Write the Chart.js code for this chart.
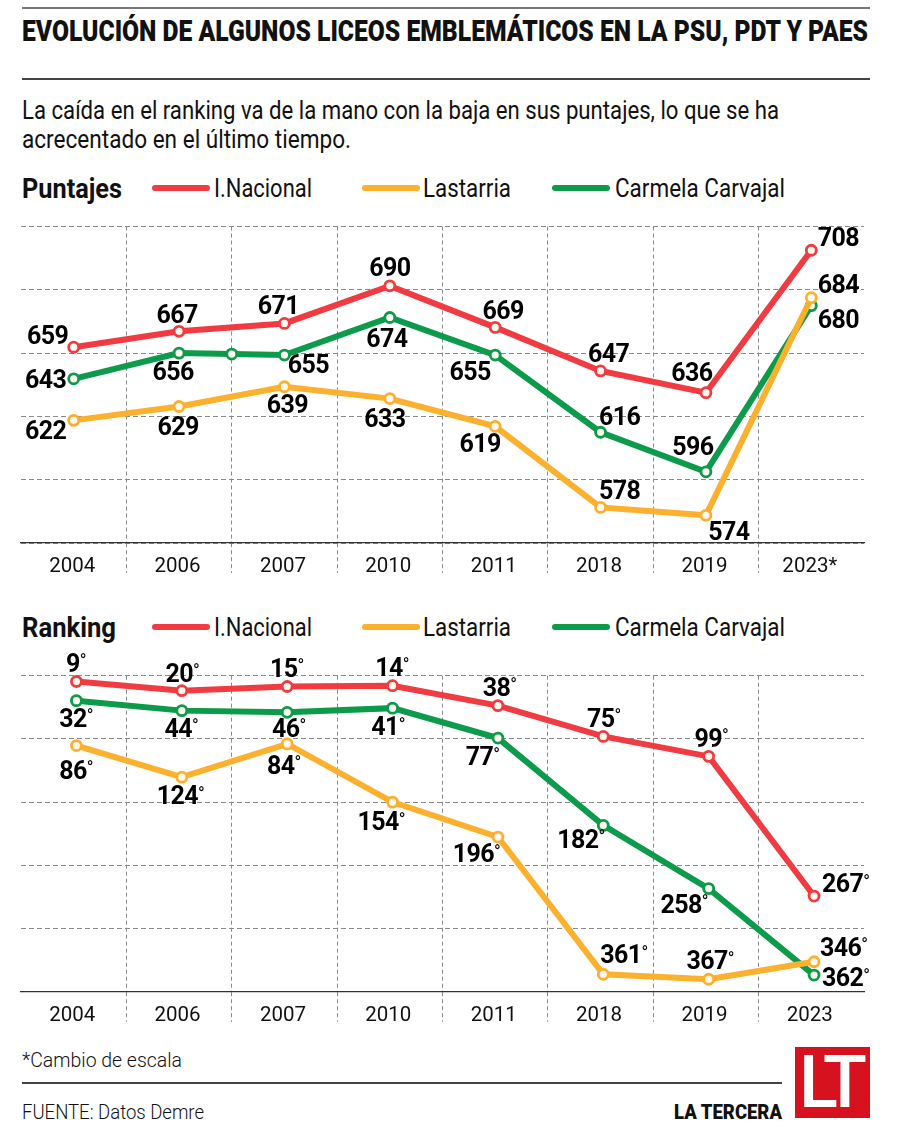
<!DOCTYPE html>
<html lang="es">
<head>
<meta charset="utf-8">
<title>Liceos emblemáticos</title>
<script src="https://cdn.jsdelivr.net/npm/chart.js@4/dist/chart.umd.js"></script>
<style>
    html, body { margin: 0; padding: 0; background: #fff; }
    #page { position: relative; width: 897px; height: 1141px; overflow: hidden; font-family: Roboto, sans-serif; color: #111; }
    .txt { position: absolute; white-space: nowrap; transform-origin: left center; line-height: 30px; height: 30px; }
    .rule { position: absolute; left: 22px; background: #444; height: 1.5px; }
    .swatch { position: absolute; height: 6px; width: 58px; border-radius: 3px; }
    .name { font-size: 25px; font-weight: 400; }
    .head { font-size: 27px; font-weight: 700; }
    canvas { position: absolute; left: 0; }
    #logo { position: absolute; left: 795px; top: 1047px; width: 75px; height: 71px; background: #d5121e; color: #fff;
            font-size: 72px; font-weight: 500; line-height: 71px; text-align: center; letter-spacing: -6px; text-indent: -5px; }
</style>
</head>
<body>
<div id="page">
    <div class="rule" style="top:7px;width:848px;background:#777;height:2px"></div>
    <div class="txt" data-w="846" style="left:22px;top:16px;font-size:29px;font-weight:900">EVOLUCIÓN DE ALGUNOS LICEOS EMBLEMÁTICOS EN LA PSU, PDT Y PAES</div>
    <div class="rule" style="top:78px;width:848px"></div>
    <div class="txt" data-w="757" style="left:22px;top:96px;font-size:25px">La caída en el ranking va de la mano con la baja en sus puntajes, lo que se ha</div>
    <div class="txt" data-w="329" style="left:22px;top:125px;font-size:25px">acrecentado en el último tiempo.</div>

    <div class="txt head" data-w="100" style="left:22px;top:174px">Puntajes</div>
    <div class="swatch" style="left:152px;top:185px;background:#ef3b41"></div>
    <div class="txt name" data-w="98" style="left:214px;top:174px">I.Nacional</div>
    <div class="swatch" style="left:362px;top:185px;background:#fbb02e"></div>
    <div class="txt name" data-w="88" style="left:423px;top:174px">Lastarria</div>
    <div class="swatch" style="left:552px;top:185px;background:#0c9a4b"></div>
    <div class="txt name" data-w="170" style="left:615px;top:174px">Carmela Carvajal</div>
    <canvas id="puntajesChart" width="897" height="390" style="top:200px"></canvas>

    <div class="txt head" data-w="94" style="left:22px;top:613px">Ranking</div>
    <div class="swatch" style="left:152px;top:624px;background:#ef3b41"></div>
    <div class="txt name" data-w="98" style="left:214px;top:613px">I.Nacional</div>
    <div class="swatch" style="left:362px;top:624px;background:#fbb02e"></div>
    <div class="txt name" data-w="88" style="left:423px;top:613px">Lastarria</div>
    <div class="swatch" style="left:552px;top:624px;background:#0c9a4b"></div>
    <div class="txt name" data-w="170" style="left:615px;top:613px">Carmela Carvajal</div>
    <canvas id="rankingChart" width="897" height="390" style="top:650px"></canvas>

    <div class="txt" data-w="160" style="left:22px;top:1045px;font-size:20px;font-weight:300">*Cambio de escala</div>
    <div class="rule" style="top:1082px;width:760px"></div>
    <div class="txt" data-w="182" style="left:22px;top:1097px;font-size:20px;font-weight:300">FUENTE: Datos Demre</div>
    <div class="txt" data-w="108" style="left:674px;top:1097px;font-size:20px;font-weight:900">LA TERCERA</div>
    <div id="logo">LT</div>
</div>

<script>
const years = ['2004', '2006', '2007', '2010', '2011', '2018', '2019', '2023'];
const puntajesYears = ['2004', '2006', '2007', '2010', '2011', '2018', '2019', '2023*'];

const puntajesNacional = [659, 667, 671, 690, 669, 647, 636, 708];
const puntajesLastarria = [622, 629, 639, 633, 619, 578, 574, 684];
const puntajesCarmela = [643, 656, 655, 674, 655, 616, 596, 680];
// unlabelled marker the original has on the green line, between 2006 and 2007
const carmelaExtraX = 1.5;
const carmelaExtraY = 655.5;

const rankingNacional = [9, 20, 15, 14, 38, 75, 99, 267];
const rankingLastarria = [86, 124, 84, 154, 196, 361, 367, 346];
const rankingCarmela = [32, 44, 46, 41, 77, 182, 258, 362];

const puntajesTicks = [560, 592, 624, 656, 688, 720];
const rankingTicks = [2, 78, 154, 230, 306, 382];

const RED = '#ef3b41';
const YELLOW = '#fbb02e';
const GREEN = '#0c9a4b';

// where each value label sits relative to its marker [dx, dy]
const puntajesOffsets = [
    [[-26, -10], [-2, -16], [-6, -17], [0, -17], [8, -16], [8, -16], [-14, -19], [27, -11]],
    [[-28, 11], [-1, 21], [3, 19], [-5, 21], [-15, 18], [19, -16], [23, 17], [27, -12]],
    [[-28, 2], [-6, 20], [24, 11], [-3, 22], [-25, 18], [19, -14], [-13, -24], [27, 15]]
];
const rankingOffsets = [
    [[0, -17], [1, -16], [0, -17], [0, -17], [2, -17], [1, -17], [3, -17], [32, -11]],
    [[0, 26], [-1, 20], [-3, 23], [-11, 21], [-21, 18], [21, -18], [2, -17], [30, -13]],
    [[0, 19], [0, 19], [2, 17], [-4, 20], [-15, 20], [-22, 15], [-24, 17], [32, 4]]
];

// squeeze the html text to the width it has in the original
document.querySelectorAll('.txt').forEach(el => {
    const target = parseFloat(el.dataset.w);
    el.style.transform = `scaleX(${target / el.getBoundingClientRect().width})`;
});

const valueLabels = {
    id: 'valueLabels',
    afterDatasetsDraw(chart, args, opts) {
        const ctx = chart.ctx;
        ctx.save();
        ctx.letterSpacing = '-0.6px';
        ctx.fillStyle = '#000';
        ctx.textAlign = 'left';
        ctx.textBaseline = 'middle';
        chart.data.datasets.forEach((ds, d) => {
            const points = chart.getDatasetMeta(d).data;
            let n = 0;
            ds.data.forEach((item, i) => {
                if (!Number.isInteger(item.x)) return;   // marker without a label
                const off = opts.offsets[d][n];
                const text = String(item.y);
                ctx.font = '700 25px Roboto';
                const w = ctx.measureText(text).width;
                const degW = opts.suffix ? 7 : 0;
                const left = points[i].x + off[0] - (w + degW) / 2;
                const y = points[i].y + off[1] + 1;
                ctx.fillText(text, left, y);
                if (opts.suffix) {
                    // the degree sign is small and thin in the original
                    ctx.font = '400 18px Roboto';
                    ctx.fillText(opts.suffix, left + w, y - 3);
                }
                n++;
            });
        });
        ctx.restore();
    }
};

function toPoints(values) {
    return values.map((v, i) => ({ x: i, y: v }));
}

function makeDataset(label, color, data) {
    return {
        label: label,
        data: data,
        borderColor: color,
        backgroundColor: color,
        borderWidth: 6,
        pointRadius: 5,
        pointBorderWidth: 2.8,
        pointBorderColor: color,
        pointBackgroundColor: '#fff8ee',
        tension: 0,
        clip: false
    };
}

function drawChart(id, labels, datasets, cfg) {
    const xTicks = [];
    labels.forEach((l, i) => {
        xTicks.push(i);
        if (i < labels.length - 1) xTicks.push(i + 0.5 - cfg.shift);
    });

    new Chart(document.getElementById(id), {
        type: 'line',
        data: { datasets: datasets },
        plugins: [valueLabels],
        options: {
            responsive: false,
            animation: false,
            layout: { padding: { left: 21, right: 33, top: cfg.top, bottom: 0 } },
            plugins: {
                legend: { display: false },
                tooltip: { enabled: false },
                valueLabels: { offsets: cfg.offsets, suffix: cfg.suffix }
            },
            scales: {
                x: {
                    type: 'linear',
                    min: -0.5 - cfg.shift,
                    max: labels.length - 0.5 - cfg.shift,
                    afterBuildTicks: scale => { scale.ticks = xTicks.map(v => ({ value: v })); },
                    afterFit: scale => { scale.height = cfg.axisHeight; },
                    ticks: {
                        autoSkip: false,
                        maxRotation: 0,
                        padding: -18,
                        labelOffset: -1.5 - cfg.shift * 105.4,
                        color: '#111',
                        font: { family: 'Roboto', size: 20.5, weight: 400 },
                        callback: v => Number.isInteger(v) ? labels[v] : ''
                    },
                    grid: {
                        color: c => Number.isInteger(c.tick.value) ? 'transparent' : '#8a8a8a',
                        tickColor: c => Number.isInteger(c.tick.value) ? 'transparent' : '#8a8a8a',
                        tickLength: 30,
                        tickBorderDash: [4, 3]
                    },
                    border: { color: '#333', width: 1.2, dash: [4, 3] }
                },
                y: {
                    reverse: cfg.reverse,
                    min: cfg.ticks[0],
                    max: cfg.ticks[cfg.ticks.length - 1],
                    afterBuildTicks: scale => { scale.ticks = cfg.ticks.map(v => ({ value: v })); },
                    afterFit: scale => { scale.width = 0; },
                    ticks: { display: false },
                    grid: { color: '#8a8a8a', drawTicks: false },
                    border: { display: false, dash: [5, 3] }
                }
            }
        }
    });
}

const carmelaPoints = toPoints(puntajesCarmela);
carmelaPoints.splice(2, 0, { x: carmelaExtraX, y: carmelaExtraY });

drawChart('puntajesChart', puntajesYears, [
    makeDataset('I.Nacional', RED, toPoints(puntajesNacional)),
    makeDataset('Lastarria', YELLOW, toPoints(puntajesLastarria)),
    makeDataset('Carmela Carvajal', GREEN, carmelaPoints)
], { ticks: puntajesTicks, reverse: false, top: 26.5, axisHeight: 47, shift: 0, offsets: puntajesOffsets, suffix: '' });

drawChart('rankingChart', years, [
    makeDataset('I.Nacional', RED, toPoints(rankingNacional)),
    makeDataset('Lastarria', YELLOW, toPoints(rankingLastarria)),
    makeDataset('Carmela Carvajal', GREEN, toPoints(rankingCarmela))
], { ticks: rankingTicks, reverse: true, top: 25.7, axisHeight: 48.3, shift: 0.026, offsets: rankingOffsets, suffix: '°' });
</script>
</body>
</html>
